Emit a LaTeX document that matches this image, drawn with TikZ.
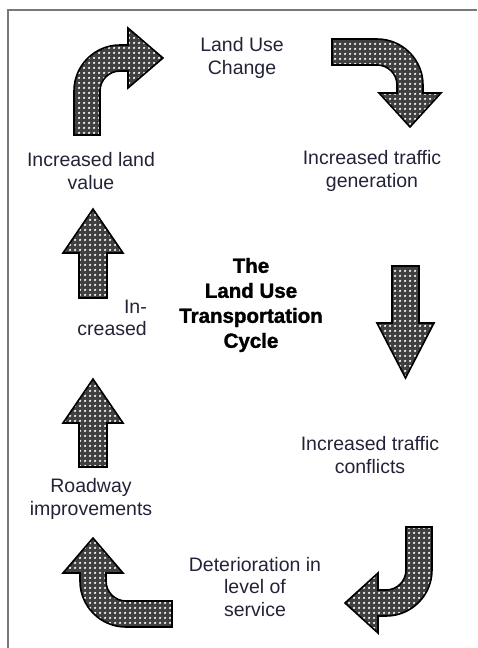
\documentclass[tikz,border=0pt]{standalone}
\usepackage{fontspec}
\setmainfont{Liberation Sans}
\newfontfamily\titlefont[FakeBold=1.6]{Liberation Sans Bold}
\usetikzlibrary{patterns.meta}
\definecolor{txt}{RGB}{35,35,55}
\definecolor{framec}{RGB}{120,120,120}
\tikzdeclarepattern{
  name=wdots, type=uncolored,
  bounding box={(0pt,0pt) and (4.5pt,4.5pt)},
  tile size={(4.5pt,4.5pt)},
  code={\fill (2.25pt,2.25pt) circle (1.35pt);}
}
\tikzset{
  fatarrow/.style={draw=black, line width=1.6pt, line join=miter,
    preaction={fill=black!75}, pattern=wdots, pattern color=white},
  lbl/.style={text=txt, align=center, inner sep=0pt,
    font=\fontsize{19.5}{22.5}\selectfont},
  ttl/.style={text=black, align=center, inner sep=0pt,
    font=\titlefont\fontsize{20.5}{25}\selectfont}
}
\begin{document}
\begin{tikzpicture}[x=1pt,y=-1pt]
\useasboundingbox (0,0) rectangle (477,648);
% frame (top and left edges)
\draw[framec, line width=1.6pt] (477,10) -- (8,10) -- (8,648);

% arrow 1: up then right
\draw[fatarrow] (100,135) -- (74,135) -- (74,91) arc (180:270:46)
  -- (128,45) -- (128,28) -- (163,58) -- (128,88) -- (128,71) -- (120,71)
  arc (270:180:20) -- cycle;
% arrow 2: right then down
\draw[fatarrow] (332,39) -- (377,39) arc (270:360:46) -- (423,93) -- (441,93)
  -- (410,127) -- (379,93) -- (397,93) -- (397,85) arc (0:-90:20)
  -- (332,65) -- cycle;
% arrow 3: down
\draw[fatarrow] (392,266) -- (419,266) -- (419,323) -- (434,323) -- (405.5,378)
  -- (377,323) -- (392,323) -- cycle;
% arrow 4: up
\draw[fatarrow] (79,298) -- (107,298) -- (107,253) -- (123,253) -- (93,209)
  -- (63,253) -- (79,253) -- cycle;
% arrow 5: up
\draw[fatarrow] (79,467) -- (107,467) -- (107,423) -- (123,423) -- (93,379)
  -- (63,423) -- (79,423) -- cycle;
% arrow 6: left then up
\draw[fatarrow] (172,627) -- (126,627) arc (90:180:46) -- (80,573) -- (63,573)
  -- (93,538) -- (123,573) -- (106,573) -- (106,581) arc (180:90:20)
  -- (172,601) -- cycle;
% arrow 7: down then left
\draw[fatarrow] (406,527) -- (432,527) -- (432,570) arc (0:90:46) -- (378,616)
  -- (378,633) -- (345,603) -- (378,573) -- (378,590) -- (386,590)
  arc (90:0:20) -- cycle;

% labels
\node[lbl] (luc) at (242,58) {Land Use\\Change};
\node[lbl] (itg) at (372,171) {Increased traffic\\generation};
\node[lbl] (itc) at (370,455) {Increased traffic\\conflicts};
\node[lbl] (dls) at (255,587) {Deterioration in\\level of\\service};
\node[lbl] (rwi) at (91,499) {Roadway\\improvements};
\node[lbl, align=right, anchor=east] (inc) at (147,318) {In-\\creased};
\node[lbl] (ilv) at (91,171) {Increased land\\value};
\node[ttl] (title) at (251,305) {The\\Land Use\\Transportation\\Cycle};
\end{tikzpicture}
\end{document}
